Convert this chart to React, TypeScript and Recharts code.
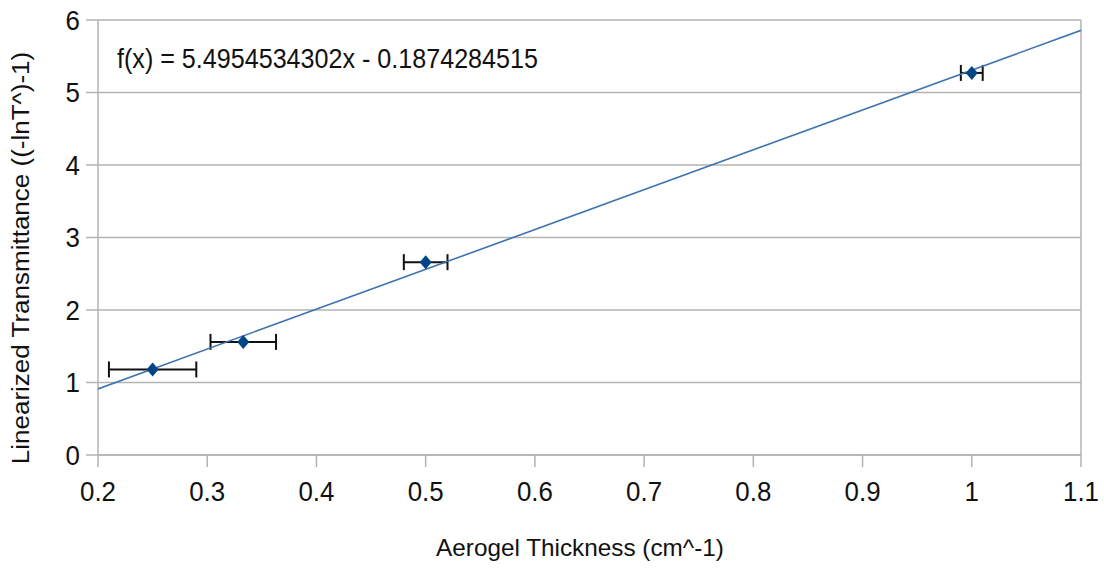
import {
  CartesianGrid, ErrorBar, ReferenceLine, Scatter, ScatterChart, XAxis, YAxis,
} from "recharts";

const thickness = [0.25, 0.333, 0.5, 1.0];
const transmittance = [1.18, 1.56, 2.66, 5.27];
const thicknessErr = [0.04, 0.03, 0.02, 0.01];

const trendX = [0.2, 1.1];
const trendY = [0.912, 5.858];

const xTicks = [0.2, 0.3, 0.4, 0.5, 0.6, 0.7, 0.8, 0.9, 1, 1.1];
const yTicks = [0, 1, 2, 3, 4, 5, 6];

const FONT = "'Liberation Sans', Arial, sans-serif";
const GRID = "#b3b3b3";
const TEXT = "#111";

const points = thickness.map((x, i) => ({ x, y: transmittance[i], err: thicknessErr[i] }));
const trend = trendX.map((x, i) => ({ x, y: trendY[i] }));

function Diamond(props: any) {
  const { cx, cy } = props;
  if (cx == null || cy == null) return null;
  return (
    <polygon
      points={`${cx},${cy - 7} ${cx + 6},${cy} ${cx},${cy + 7} ${cx - 6},${cy}`}
      fill="#004586"
    />
  );
}

// the source picture has slightly narrow lettering, so squeeze it a bit
function XTick(props: any) {
  const { x, y, payload } = props;
  return (
    <g transform={`translate(${x},${y}) scale(0.925,1)`}>
      <text x={0} y={0} dy="0.71em" textAnchor="middle" fill={TEXT} fontSize={28} fontFamily={FONT}>
        {String(payload.value)}
      </text>
    </g>
  );
}

function YTick(props: any) {
  const { x, y, payload } = props;
  return (
    <g transform={`translate(${x},${y}) scale(0.925,1)`}>
      <text x={0} y={0} dy="0.355em" textAnchor="end" fill={TEXT} fontSize={28} fontFamily={FONT}>
        {String(payload.value)}
      </text>
    </g>
  );
}

export default function App() {
  return (
    <div style={{ position: "absolute", left: 0, top: 0, width: 1104, height: 568, background: "#fff" }}>
      <ScatterChart width={1104} height={568} margin={{ top: 20, right: 23, left: 38, bottom: 43 }}>
        <CartesianGrid vertical={false} stroke={GRID} strokeWidth={1.5} />
        <XAxis
          type="number"
          dataKey="x"
          domain={[0.2, 1.1]}
          ticks={xTicks}
          allowDataOverflow
          height={70}
          tick={<XTick />}
          tickSize={12}
          tickMargin={14}
          stroke={GRID}
          strokeWidth={1.5}
        />
        <YAxis
          type="number"
          dataKey="y"
          domain={[0, 6]}
          ticks={yTicks}
          width={60}
          tick={<YTick />}
          tickSize={12}
          tickMargin={6}
          stroke={GRID}
          strokeWidth={1.5}
        />
        <ReferenceLine x={1.1} stroke={GRID} strokeWidth={1.5} />
        <Scatter
          data={trend}
          line={{ stroke: "#3f74b0", strokeWidth: 1.6 }}
          shape={() => <g />}
          isAnimationActive={false}
        />
        <Scatter data={points} shape={Diamond} isAnimationActive={false}>
          <ErrorBar dataKey="err" direction="x" width={8} stroke="#111" strokeWidth={2} />
        </Scatter>
      </ScatterChart>
      <div
        style={{
          position: "absolute", left: 117, top: 46, fontFamily: FONT, fontSize: 27, lineHeight: 1,
          color: TEXT, whiteSpace: "nowrap", transform: "scaleX(0.93)", transformOrigin: "left center",
        }}
      >
        f(x) = 5.4954534302x - 0.1874284515
      </div>
      <div
        style={{
          position: "absolute", left: 580, top: 536, transform: "translateX(-50%)",
          fontFamily: FONT, fontSize: 24.3, lineHeight: 1, color: TEXT, whiteSpace: "nowrap",
        }}
      >
        Aerogel Thickness (cm^-1)
      </div>
      <div
        style={{
          position: "absolute", left: 21, top: 258,
          transform: "translate(-50%, -50%) rotate(-90deg) scaleY(0.89)",
          fontFamily: FONT, fontSize: 26, lineHeight: 1, color: TEXT, whiteSpace: "nowrap",
        }}
      >
        Linearized Transmittance ((-lnT^)-1)
      </div>
    </div>
  );
}
